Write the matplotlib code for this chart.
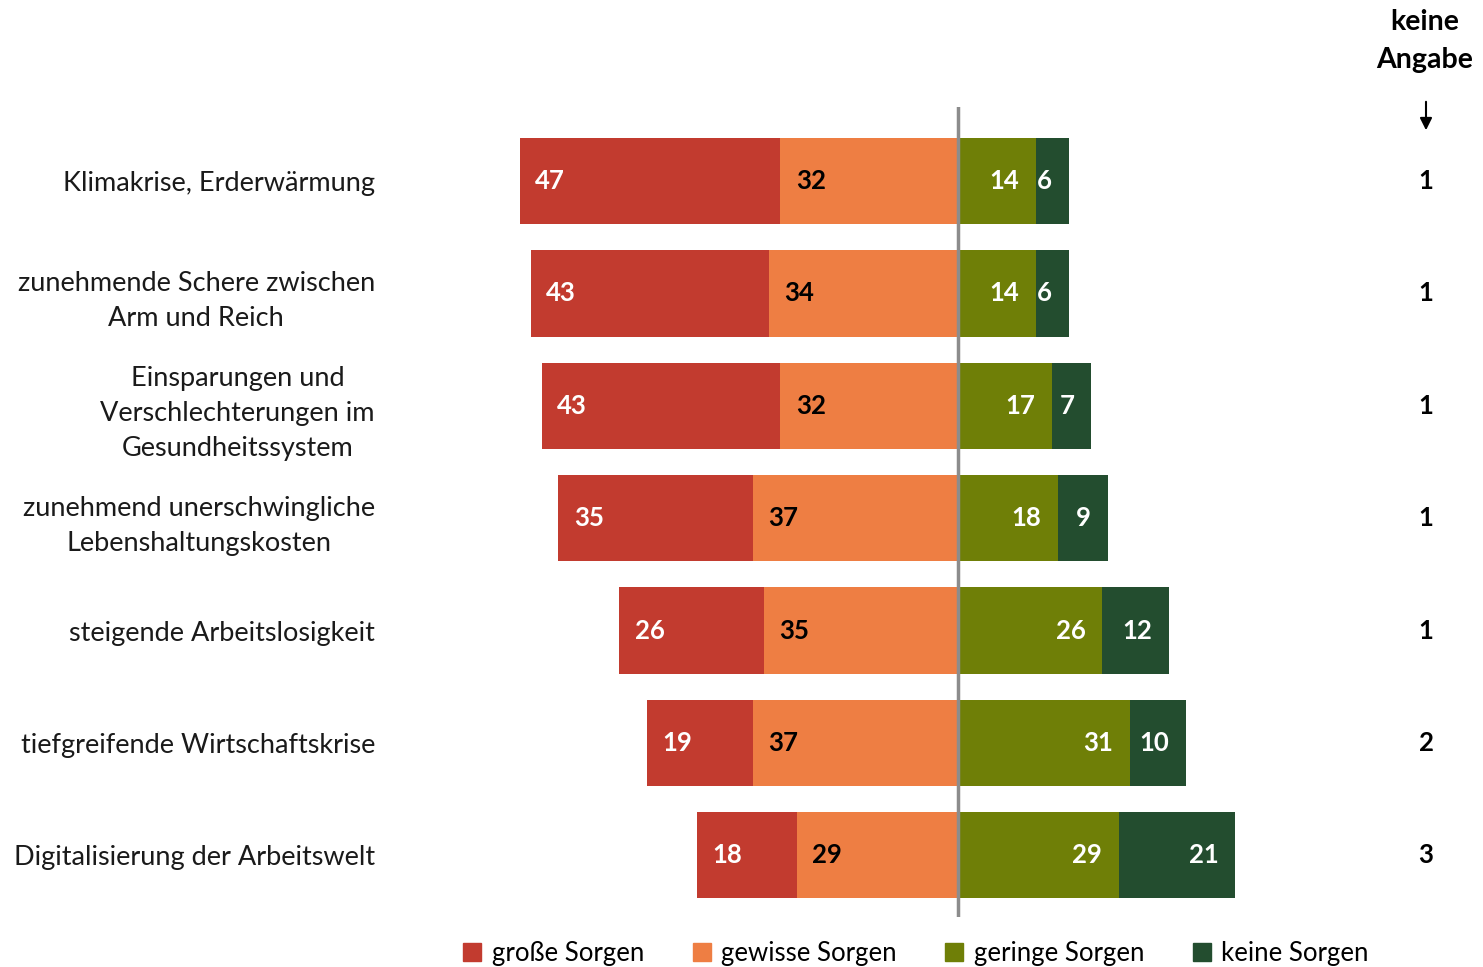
import matplotlib.pyplot as plt
import matplotlib.transforms as mtransforms
from matplotlib.patches import Patch

categories = [
    "Klimakrise, Erderwärmung",
    "zunehmende Schere zwischen\nArm und Reich",
    "Einsparungen und\nVerschlechterungen im\nGesundheitssystem",
    "zunehmend unerschwingliche\nLebenshaltungskosten",
    "steigende Arbeitslosigkeit",
    "tiefgreifende Wirtschaftskrise",
    "Digitalisierung der Arbeitswelt",
]
grosse = [47, 43, 43, 35, 26, 19, 18]
gewisse = [32, 34, 32, 37, 35, 37, 29]
geringe = [14, 14, 17, 18, 26, 31, 29]
keine = [6, 6, 7, 9, 12, 10, 21]
keine_angabe = [1, 1, 1, 1, 1, 2, 3]
legend_labels = ["große Sorgen", "gewisse Sorgen", "geringe Sorgen", "keine Sorgen"]

colors = ["#C23B2F", "#EE7E43", "#6F7F07", "#234D2F"]
FONT = "Lato"
plt.rcParams["font.family"] = [FONT, "DejaVu Sans"]

W, H = 1483, 967
fig = plt.figure(figsize=(W / 100, H / 100), dpi=100)
ax = fig.add_axes([400 / W, (H - 917) / H, 940 / W, 810 / H])

y = list(range(len(categories)))
h = 0.766
left_red = [-(a + b) for a, b in zip(grosse, gewisse)]
left_orange = [-b for b in gewisse]

ax.barh(y, grosse, left=left_red, height=h, color=colors[0])
ax.barh(y, gewisse, left=left_orange, height=h, color=colors[1])
ax.barh(y, geringe, left=0, height=h, color=colors[2])
ax.barh(y, keine, left=geringe, height=h, color=colors[3])
ax.axvline(0, color="#8C8C8C", lw=2.5)

ax.set_xlim(-100.54, 68.83)
ax.set_ylim(6.55, -0.66)
ax.set_xticks([])
ax.set_yticks(y)
ax.set_yticklabels(categories, fontsize=19.5, color="#1a1a1a", linespacing=1.5)
for lab in ax.get_yticklabels():
    lab.set_multialignment("center")
ax.tick_params(axis="y", length=0, pad=18)
for s in ax.spines.values():
    s.set_visible(False)

off = 11
kw = dict(textcoords="offset points", va="center", fontsize=18.5, fontweight="bold")
for i in y:
    ax.annotate(str(grosse[i]), (left_red[i], i), xytext=(off, 0), ha="left", color="white", **kw)
    ax.annotate(str(gewisse[i]), (left_orange[i], i), xytext=(off, 0), ha="left", color="black", **kw)
    ax.annotate(str(geringe[i]), (geringe[i], i), xytext=(-off - 1, 0), ha="right", color="white", **kw)
    ax.annotate(str(keine[i]), (geringe[i] + keine[i], i), xytext=(-off - 1, 0), ha="right", color="white", **kw)

trans = mtransforms.blended_transform_factory(fig.transFigure, ax.transData)
for i, v in enumerate(keine_angabe):
    ax.text(1426 / W, i, str(v), transform=trans, ha="center", va="center",
            fontsize=18.5, fontweight="bold")

fig.text(1425 / W, 1 - 41 / H, "keine\nAngabe", ha="center", va="center",
         fontsize=20.5, fontweight="bold", linespacing=1.6)
ax.annotate("", xy=(1426 / W, 1 - 133 / H), xytext=(1426 / W, 1 - 99 / H),
            xycoords="figure fraction", textcoords="figure fraction",
            arrowprops=dict(arrowstyle="-|>", color="black", lw=1.5, mutation_scale=18))

handles = [Patch(color=c) for c in colors]
fig.legend(handles, legend_labels, loc="center", bbox_to_anchor=(916 / W, 14 / H),
           ncol=4, frameon=False, fontsize=18.5, handlelength=0.7, handleheight=0.7,
           handletextpad=0.4, columnspacing=1.9, borderaxespad=0)

fig.savefig("out.png", dpi=100)
